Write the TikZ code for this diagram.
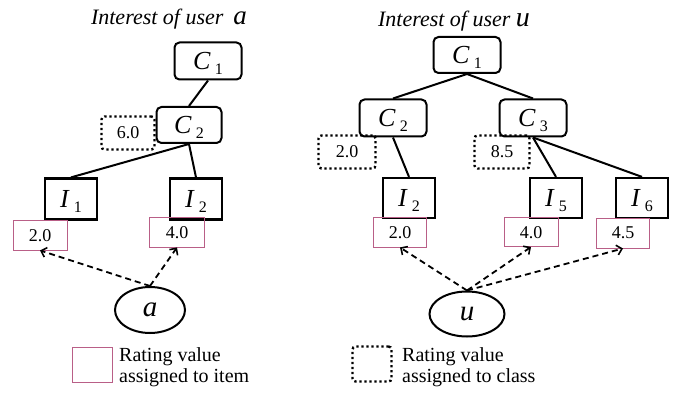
\documentclass[tikz,border=0pt]{standalone}
\usepackage{fontspec}
\setmainfont{Liberation Serif}
\usetikzlibrary{arrows.meta,shapes.geometric}
\definecolor{pinkc}{RGB}{185,95,135}
\newcommand{\subl}[2]{\textit{#1}\hspace{4pt}\raisebox{-5pt}{\fontsize{16}{16}\selectfont #2}}
\begin{document}
\begin{tikzpicture}[x=1pt,y=-1pt,
  cbox/.style={draw,line width=2pt,rounded corners=5pt,inner sep=0pt,
    minimum width=67pt,minimum height=37pt,
    font=\fontsize{26}{26}\selectfont,text height=17pt,text depth=0pt},
  ibox/.style={draw,line width=2.2pt,inner sep=0pt,
    minimum width=52pt,minimum height=41pt,
    font=\fontsize{26}{26}\selectfont,text height=17pt,text depth=0pt},
  dotbox/.style={draw,line width=2.4pt,dash pattern=on 2.2pt off 2.8pt,
    rounded corners=3pt,inner sep=0pt,minimum width=54pt,minimum height=33pt,
    font=\fontsize{18}{18}\selectfont,text height=12pt,text depth=0pt},
  pbox/.style={draw=pinkc,line width=0.9pt,inner sep=0pt,
    minimum width=54pt,minimum height=30pt,
    font=\fontsize{18}{18}\selectfont,text height=12pt,text depth=0pt},
  user/.style={draw,ellipse,line width=2pt,inner sep=0pt,
    minimum width=72pt,minimum height=46pt,
    font=\fontsize{29}{29}\selectfont\itshape,text height=13pt,text depth=0pt},
  title/.style={font=\fontsize{22}{22}\selectfont\itshape,inner sep=0pt,anchor=base},
  edge/.style={line width=2pt},
  arr/.style={line width=1.8pt,dash pattern=on 6pt off 4pt,
    -{Straight Barb[length=5pt,width=10pt,line width=1.6pt]}},
  legtext/.style={font=\fontsize{20}{21}\selectfont,align=left,inner sep=0pt,anchor=west}
]
\useasboundingbox (0,0) rectangle (686,393);
% ---------- left tree ----------
\node[title] (ta) at (169,25) {Interest of user\hspace{10pt}{\fontsize{27}{27}\selectfont a}};
\node[cbox] (c1a) at (208,61) {\subl{C}{1}};
\node[cbox,minimum width=65pt,minimum height=36pt] (c2a) at (189,125) {\subl{C}{2}};
\node[dotbox,minimum width=53pt] (d60) at (128,133) {6.0};
\node[ibox] (i1a) at (71,199) {\subl{I}{1}};
\node[ibox] (i2a) at (196,199) {\subl{I}{2}};
\node[pbox] (p20a) at (40,235) {2.0};
\node[pbox,minimum width=55pt] (p40a) at (177,232) {4.0};
\node[user,minimum width=70pt] (ua) at (150,310) {a};
\draw[edge] (c1a.south) -- (c2a.north);
\draw[edge] (c2a.south) -- (i1a.north);
\draw[edge] (c2a.south) -- (i2a.north);
\draw[arr] (ua.north) -- (p20a.south);
\draw[arr] (ua.north) -- (p40a.south);
% ---------- right tree ----------
\node[title] (tu) at (454,27) {Interest of user {\fontsize{28}{28}\selectfont u}};
\node[cbox,minimum height=36pt] (c1u) at (467,55) {\subl{C}{1}};
\node[cbox] (c2u) at (393,118) {\subl{C}{2}};
\node[cbox] (c3u) at (533,118) {\subl{C}{3}};
\node[dotbox,minimum width=57pt] (d20u) at (347,152) {2.0};
\node[dotbox,minimum width=55pt] (d85u) at (502,152) {8.5};
\node[ibox,minimum height=40pt] (i2u) at (409,198) {\subl{I}{2}};
\node[ibox,minimum height=40pt] (i5u) at (556,198) {\subl{I}{5}};
\node[ibox,minimum height=40pt] (i6u) at (642,198) {\subl{I}{6}};
\node[pbox,minimum width=53pt] (p20u) at (400,232) {2.0};
\node[pbox,minimum height=29pt] (p40u) at (531,232) {4.0};
\node[pbox,minimum width=53pt] (p45u) at (623,233) {4.5};
\node[user,minimum width=75pt,minimum height=45pt] (uu) at (467,314) {u};
\draw[edge] (c1u.south) -- (c2u.north);
\draw[edge] (c1u.south) -- (c3u.north);
\draw[edge] (c2u.south) -- (i2u.north);
\draw[edge] (c3u.south) -- (i5u.north);
\draw[edge] (c3u.south) -- (i6u.north);
\draw[arr] (uu.north) -- (p20u.south);
\draw[arr] (uu.north) -- (p40u.south);
\draw[arr] (uu.north) -- (p45u.south);
% ---------- legend ----------
\node[pbox,minimum width=40pt,minimum height=35pt] (lp) at (92,365) {};
\node[legtext] (lpt) at (119,367) {Rating value\\assigned to item};
\node[dotbox,minimum width=39pt,minimum height=35pt] (ld) at (372,364) {};
\node[legtext] (ldt) at (402,367) {Rating value\\assigned to class};
\end{tikzpicture}
\end{document}
